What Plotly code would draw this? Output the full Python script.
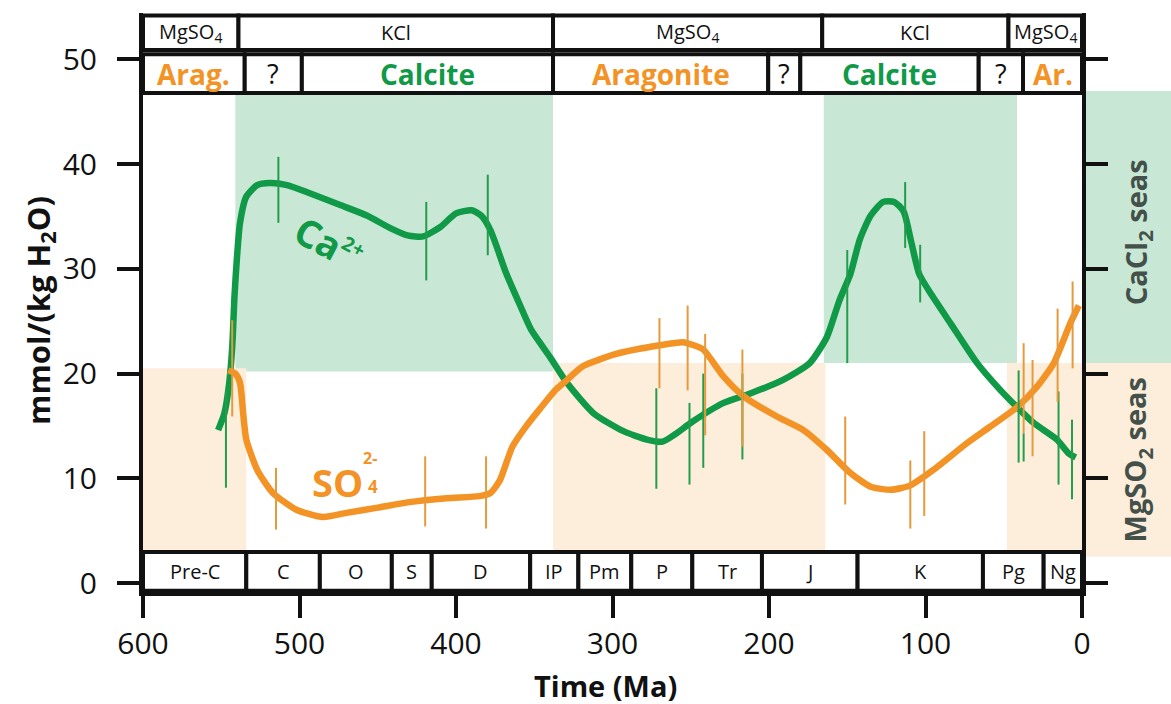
import plotly.graph_objects as go

# ---------------- data ----------------
ca_age = [552, 548, 545, 543, 541.5, 540, 538, 534, 527, 519, 508, 493, 474, 457, 442, 431, 421,
          410, 400, 390, 384, 378, 368, 359, 352, 340, 329, 312, 293, 278, 268, 260, 249, 229,
          212, 191, 174, 163, 155, 148, 142, 135, 127, 120, 114, 109, 104, 96, 84, 67, 52, 41.5,
          31, 16, 8.7, 4]
ca_val = [14.6, 16.2, 19.0, 22.5, 27.5, 31.0, 34.4, 36.9, 38.0, 38.2, 38.0, 37.2, 36.1, 35.1, 33.9,
          33.2, 33.1, 34.0, 35.3, 35.6, 35.1, 33.7, 29.6, 26.5, 24.2, 21.6, 19.1, 16.2, 14.5, 13.7,
          13.5, 14.2, 15.4, 17.2, 18.1, 19.4, 21.0, 23.5, 27.0, 29.5, 32.8, 35.1, 36.4, 36.4, 35.5,
          32.5, 29.5, 27.5, 24.8, 21.0, 18.4, 16.8, 15.3, 13.7, 12.4, 12.0]

so4_age = [545.5, 541, 538, 536, 534, 527, 517, 502, 485, 470, 450, 431, 406, 385, 378, 372, 364,
           355, 346, 336, 329, 319, 297, 270, 255, 248, 242, 229, 216, 195, 178, 163, 148, 135,
           122, 110, 95, 74, 59, 41.5, 29, 18, 11, 7.5, 2]
so4_val = [20.3, 20.0, 19.1, 16.2, 13.7, 10.8, 8.6, 7.0, 6.3, 6.7, 7.2, 7.7, 8.1, 8.3, 8.6, 9.8,
           13.0, 15.0, 16.7, 18.5, 19.4, 20.7, 21.9, 22.7, 23.0, 22.7, 22.3, 19.7, 17.8, 15.9,
           14.6, 12.7, 10.5, 9.2, 8.9, 9.3, 10.8, 13.3, 14.9, 16.8, 18.7, 21.0, 23.5, 24.8, 26.5]

# fluid-inclusion ranges (age, low, high)
ca_err_age = [547, 513.5, 419, 379.7, 272, 250.8, 242, 217, 150, 113, 103.4, 40.5, 37.3, 15, 6.4]
ca_err_lo = [9.1, 34.4, 28.9, 31.3, 9.0, 9.4, 11.0, 11.8, 21.0, 32.0, 26.8, 11.5, 11.6, 9.4, 8.0]
ca_err_hi = [18.4, 40.7, 36.4, 39.0, 18.6, 17.2, 20.0, 20.0, 31.8, 38.3, 32.3, 20.3, 14.3, 18.3, 15.6]

so4_err_age = [543, 515, 419.7, 380.8, 270, 252, 240.8, 217, 151.3, 109.7, 100.8, 37.3, 31.6, 15.6, 6.0]
so4_err_lo = [15.9, 5.1, 5.4, 5.2, 18.6, 18.4, 14.1, 13.0, 7.5, 5.2, 6.4, 14.3, 12.1, 17.3, 20.5]
so4_err_hi = [25.1, 11.0, 12.1, 12.1, 25.3, 26.5, 23.8, 22.3, 15.9, 11.7, 14.5, 22.9, 21.3, 26.2, 28.8]

periods = ["Pre-C", "C", "O", "S", "D", "IP", "Pm", "P", "Tr", "J", "K", "Pg", "Ng"]
period_bounds = [600, 534, 487, 441, 415.5, 352.6, 321.8, 288, 249, 204.5, 143.4, 63.3, 24.5, 0]

evap_labels = ["MgSO<sub>4</sub>", "KCl", "MgSO<sub>4</sub>", "KCl", "MgSO<sub>4</sub>"]
evap_bounds = [600, 539, 338, 166, 47, 0]

mineral_labels = ["Arag.", "?", "Calcite", "Aragonite", "?", "Calcite", "?", "Ar."]
mineral_kind = ["a", "q", "c", "a", "q", "c", "q", "a"]
mineral_bounds = [600, 535, 498.5, 338, 200.5, 180, 66, 37.7, 0]

calcite_sea_spans = [(541, 338, 20.2, 46.6), (165, 41.5, 21.0, 46.6)]
arag_sea_spans = [(600, 534, 3.0, 20.5), (338, 164, 3.0, 21.0), (48, 0, 3.0, 21.0)]

xticks = [600, 500, 400, 300, 200, 100, 0]
yticks = [0, 10, 20, 30, 40, 50]

# ---------------- style ----------------
GREEN = "#109a48"
ORANGE = "#f39325"
GREEN_FILL = "#c9e7d5"
PEACH_FILL = "#fdeedc"
SEAS_TXT = "#43514a"
FONT = "Open Sans, Noto Sans, sans-serif"

YMIN, YMAX = -0.86, 54.44


def ypaper(v):
    return (v - YMIN) / (YMAX - YMIN)


fig = go.Figure()

shapes = []
annotations = []

# background shading
for x0, x1, y0, y1 in calcite_sea_spans:
    shapes.append(dict(type="rect", xref="x", yref="y", x0=x0, x1=x1, y0=y0, y1=y1,
                       fillcolor=GREEN_FILL, line=dict(width=0), layer="below"))
for x0, x1, y0, y1 in arag_sea_spans:
    shapes.append(dict(type="rect", xref="x", yref="y", x0=x0, x1=x1, y0=y0, y1=y1,
                       fillcolor=PEACH_FILL, line=dict(width=0), layer="below"))

# right-hand seas boxes
shapes.append(dict(type="rect", xref="paper", yref="paper", x0=1.0, x1=1.2,
                   y0=ypaper(21.0), y1=ypaper(47.0), fillcolor=GREEN_FILL,
                   line=dict(width=0), layer="below"))
shapes.append(dict(type="rect", xref="paper", yref="paper", x0=1.0, x1=1.2,
                   y0=ypaper(2.5), y1=ypaper(21.0), fillcolor=PEACH_FILL,
                   line=dict(width=0), layer="below"))
annotations.append(dict(xref="paper", yref="paper", x=1.0585, y=ypaper(33.5),
                        xanchor="center", yanchor="middle",
                        text="CaCl<sub>2</sub> seas", textangle=-90, showarrow=False,
                        font=dict(family=FONT, size=29, color=SEAS_TXT, weight="bold")))
annotations.append(dict(xref="paper", yref="paper", x=1.0585, y=ypaper(11.8),
                        xanchor="center", yanchor="middle",
                        text="MgSO<sub>2</sub> seas", textangle=-90, showarrow=False,
                        font=dict(family=FONT, size=29, color=SEAS_TXT, weight="bold")))

# evaporite row
for i, lab in enumerate(evap_labels):
    x0, x1 = evap_bounds[i], evap_bounds[i + 1]
    shapes.append(dict(type="rect", xref="x", yref="y", x0=x0, x1=x1, y0=50.9, y1=54.2,
                       fillcolor="white", line=dict(color="#111", width=4)))
    annotations.append(dict(xref="x", yref="y", x=(x0 + x1) / 2, y=52.55, text=lab,
                            showarrow=False, font=dict(family=FONT, size=20, color="#111")))

# mineralogy row
for i, lab in enumerate(mineral_labels):
    x0, x1 = mineral_bounds[i], mineral_bounds[i + 1]
    shapes.append(dict(type="rect", xref="x", yref="y", x0=x0, x1=x1, y0=46.8, y1=50.5,
                       fillcolor="white", line=dict(color="#111", width=4)))
    k = mineral_kind[i]
    if k == "q":
        f = dict(family=FONT, size=27, color="#111")
    else:
        f = dict(family=FONT, size=28, color=ORANGE if k == "a" else GREEN, weight="bold")
    annotations.append(dict(xref="x", yref="y", x=(x0 + x1) / 2, y=48.65, text=lab,
                            showarrow=False, font=f))

# period row
for i, lab in enumerate(periods):
    x0, x1 = period_bounds[i], period_bounds[i + 1]
    shapes.append(dict(type="rect", xref="x", yref="y", x0=x0, x1=x1, y0=-0.75, y1=2.95,
                       fillcolor="white", line=dict(color="#111", width=4)))
    annotations.append(dict(xref="x", yref="y", x=(x0 + x1) / 2, y=1.1, text=lab,
                            showarrow=False, font=dict(family=FONT, size=20, color="#111")))

# curves
fig.add_trace(go.Scatter(x=ca_age, y=ca_val, mode="lines", line=dict(color=GREEN, width=6.5,
                         shape="spline", smoothing=0.6), hoverinfo="skip", showlegend=False))
fig.add_trace(go.Scatter(x=so4_age, y=so4_val, mode="lines", line=dict(color=ORANGE, width=6.5,
                         shape="spline", smoothing=0.6), hoverinfo="skip", showlegend=False))


# range bars
def bars(age, lo, hi, color):
    mid = [(a + b) / 2 for a, b in zip(lo, hi)]
    half = [(b - a) / 2 for a, b in zip(lo, hi)]
    return go.Scatter(x=age, y=mid, mode="markers", marker=dict(size=1, opacity=0),
                      error_y=dict(type="data", array=half, symmetric=True, width=0,
                                   thickness=2, color=color),
                      hoverinfo="skip", showlegend=False)


fig.add_trace(bars(ca_err_age, ca_err_lo, ca_err_hi, "#239c4c"))
fig.add_trace(bars(so4_err_age, so4_err_lo, so4_err_hi, "#e59a3c"))

# curve labels
annotations.append(dict(xref="x", yref="y", x=481, y=32.5,
                        text="Ca<sup><span style='font-size:20px'>2+</span></sup>",
                        textangle=28, showarrow=False,
                        font=dict(family=FONT, size=38, color=GREEN, weight="bold")))
annotations.append(dict(xref="x", yref="y", x=476, y=9.65, text="SO", showarrow=False,
                        font=dict(family=FONT, size=38, color=ORANGE, weight="bold")))
annotations.append(dict(xref="x", yref="y", x=455.0, y=11.9, text="2-", showarrow=False,
                        font=dict(family=FONT, size=16, color=ORANGE, weight="bold")))
annotations.append(dict(xref="x", yref="y", x=453.2, y=9.2, text="4", showarrow=False,
                        font=dict(family=FONT, size=17, color=ORANGE, weight="bold")))

# axis titles
annotations.append(dict(xref="paper", yref="paper", x=-0.1097, y=0.487,
                        xanchor="center", yanchor="middle",
                        text="mmol/(kg H<sub>2</sub>O)", textangle=-90, showarrow=False,
                        font=dict(family=FONT, size=31, color="#111", weight="bold")))
annotations.append(dict(xref="paper", yref="paper", x=0.493, y=-0.161,
                        xanchor="center", yanchor="middle", text="Time (Ma)",
                        showarrow=False,
                        font=dict(family=FONT, size=29, color="#111", weight="bold")))

fig.update_layout(
    width=1171, height=704,
    margin=dict(l=143, r=89, t=13, b=112),
    paper_bgcolor="white", plot_bgcolor="white",
    shapes=shapes, annotations=annotations,
    xaxis=dict(range=[600, 0], tickvals=xticks, ticks="outside", ticklen=22, tickwidth=4,
               tickcolor="#111", showline=True, linewidth=4, linecolor="#111",
               showgrid=False, zeroline=False, ticklabelstandoff=0,
               tickfont=dict(family=FONT, size=30, color="#111")),
    yaxis=dict(range=[YMIN, YMAX], tickvals=yticks, ticks="outside", ticklen=22, tickwidth=4,
               tickcolor="#111", showline=True, linewidth=4, linecolor="#111",
               mirror="ticks", showgrid=False, zeroline=False, ticklabelstandoff=14,
               tickfont=dict(family=FONT, size=30, color="#111")),
)

fig.write_html("out.html")
